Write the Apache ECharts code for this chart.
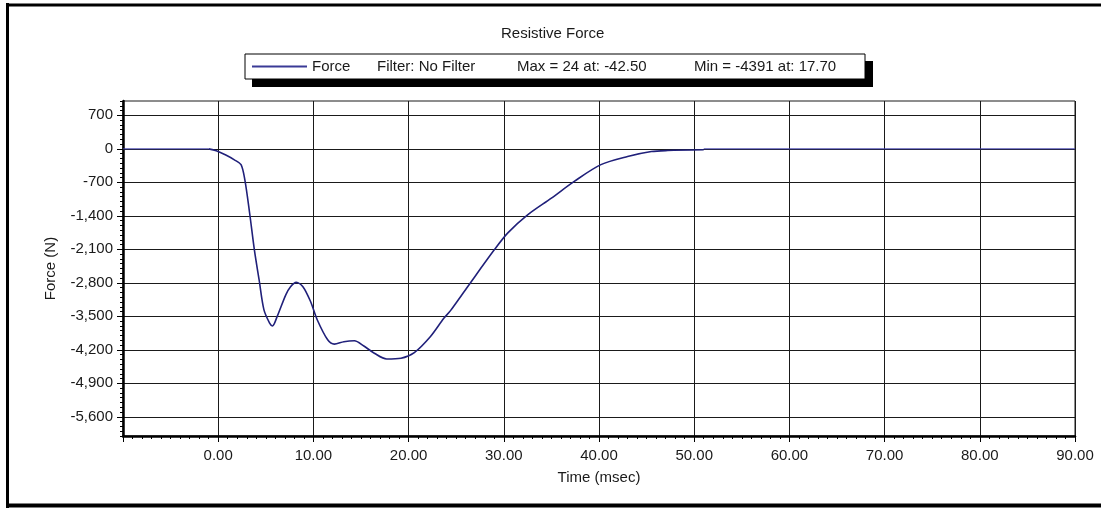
<!DOCTYPE html>
<html>
<head>
<meta charset="utf-8">
<script src="https://cdn.jsdelivr.net/npm/echarts@6/dist/echarts.min.js"></script>
<style>
  html, body { margin: 0; padding: 0; background: #fff; }
  #chart { width: 1101px; height: 508px; }
</style>
</head>
<body>
<div id="chart"></div>
<script>
// ---- data ----
const chartTitle = 'Resistive Force';
const seriesName = 'Force';
const legendFilter = 'Filter: No Filter';
const legendMax = 'Max = 24 at: -42.50';
const legendMin = 'Min = -4391 at: 17.70';
const xAxisTitle = 'Time (msec)';
const yAxisTitle = 'Force (N)';

const yTickValues = [700, 0, -700, -1400, -2100, -2800, -3500, -4200, -4900, -5600];

// main force curve (time in msec, force in N)
const timeMs = [-1, -0.2, 0.8, 1.7, 2.4, 2.8, 3.3, 3.8, 4.3, 4.8, 5.4, 5.7, 6.2, 7.1, 7.6, 8.2, 8.9, 9.7,
  10.4, 11.5, 12.2, 13.2, 14.3, 15.3, 16.4, 17.7, 19.2, 20.6, 22.3, 23.7, 24.4, 26.2, 29.0, 30.4,
  32.5, 35.0, 37.4, 40.2, 43.0, 45.5, 47.2, 51.0];
const forceN = [0, -40, -130, -230, -330, -650, -1340, -2110, -2740, -3360, -3640, -3700, -3500, -3050, -2880, -2790, -2880, -3190,
  -3570, -3990, -4080, -4030, -4010, -4120, -4270, -4391, -4375, -4257, -3920, -3540, -3380, -2880, -2110, -1760,
  -1380, -1030, -680, -330, -160, -56, -35, -20];

// flat baseline before and after the event
const baseBeforeT = [-10, -1];
const baseBeforeF = [0, 0];
const baseAfterT = [51, 90];
const baseAfterF = [0, 0];

const zip = (a, b) => a.map((v, i) => [v, b[i]]);

const FONT = '"Liberation Sans", Arial, sans-serif';
const TXT = '#1a1a1a';
const GRIDC = '#1a1a1a';

const chart = echarts.init(document.getElementById('chart'), null, { renderer: 'canvas' });

chart.setOption({
  backgroundColor: '#ffffff',
  animation: false,
  title: {
    text: chartTitle,
    left: 501,
    top: 26,
    padding: 0,
    textStyle: { fontFamily: FONT, fontSize: 15, fontWeight: 'normal', color: TXT }
  },
  legend: {
    data: [seriesName],
    left: 245,
    top: 54,
    padding: [5, 15, 5, 7],
    itemWidth: 55,
    itemHeight: 2,
    icon: 'rect',
    backgroundColor: '#ffffff',
    borderColor: '#000',
    borderWidth: 1,
    borderRadius: 0,
    selectedMode: false,
    formatter: function () {
      return '{a|' + seriesName + '}{b|' + legendFilter + '}{c|' + legendMax + '}{d|' + legendMin + '}';
    },
    textStyle: {
      fontFamily: FONT, fontSize: 15, color: TXT,
      rich: {
        a: { width: 65, fontFamily: FONT, fontSize: 15, color: TXT, lineHeight: 16 },
        b: { width: 140, fontFamily: FONT, fontSize: 15, color: TXT, lineHeight: 16 },
        c: { width: 177, fontFamily: FONT, fontSize: 15, color: TXT, lineHeight: 16 },
        d: { width: 156, fontFamily: FONT, fontSize: 15, color: TXT, lineHeight: 16 }
      }
    }
  },
  graphic: [
    { type: 'rect', z: 1, shape: { x: 252, y: 61, width: 621, height: 26 }, style: { fill: '#000' } },
    { type: 'line', z: 10, shape: { x1: 7.5, y1: 3, x2: 7.5, y2: 508 }, style: { stroke: '#000', lineWidth: 3 } },
    { type: 'line', z: 10, shape: { x1: 6, y1: 5, x2: 1101, y2: 5 }, style: { stroke: '#000', lineWidth: 3 } },
    { type: 'line', z: 10, shape: { x1: 6, y1: 505.5, x2: 1101, y2: 505.5 }, style: { stroke: '#000', lineWidth: 4 } }
  ],
  grid: {
    left: 123, right: 26, top: 101, bottom: 72,
    show: true, borderColor: GRIDC, borderWidth: 1, backgroundColor: '#fff'
  },
  xAxis: {
    type: 'value',
    min: -10, max: 90, interval: 10,
    name: xAxisTitle,
    nameLocation: 'middle',
    nameGap: 34,
    nameTextStyle: { fontFamily: FONT, fontSize: 15, color: TXT },
    axisLine: { show: true, onZero: false, lineStyle: { color: '#000', width: 2.5 } },
    axisTick: { show: true, length: 6, lineStyle: { color: '#000', width: 1 } },
    minorTick: { show: true, splitNumber: 10, length: 3, lineStyle: { color: '#000', width: 1 } },
    axisLabel: {
      margin: 12,
      fontFamily: FONT, fontSize: 15, color: TXT,
      formatter: v => (v < 0 ? '' : v.toFixed(2))
    },
    splitLine: { show: true, lineStyle: { color: GRIDC, width: 1 } },
    minorSplitLine: { show: false }
  },
  yAxis: [
    {
      type: 'value',
      min: -6000, max: 1000,
      position: 'left',
      name: yAxisTitle,
      nameLocation: 'middle',
      nameGap: 65,
      nameRotate: 90,
      nameTextStyle: { fontFamily: FONT, fontSize: 15, color: TXT },
      axisLine: { show: true, onZero: false, lineStyle: { color: '#000', width: 2.5 } },
      axisTick: { show: true, length: 6, customValues: yTickValues, lineStyle: { color: '#000', width: 1 } },
      axisLabel: {
        margin: 10,
        customValues: yTickValues,
        fontFamily: FONT, fontSize: 15, color: TXT,
        formatter: v => v.toLocaleString('en-US')
      },
      splitLine: { show: true, lineStyle: { color: GRIDC, width: 1 } }
    },
    {
      type: 'value',
      min: -6000, max: 1000, interval: 100,
      position: 'left',
      axisLine: { show: false, onZero: false },
      axisTick: { show: true, length: 3, lineStyle: { color: '#000', width: 1 } },
      axisLabel: { show: false },
      splitLine: { show: false }
    }
  ],
  series: [
    {
      name: '_base1', type: 'line', yAxisIndex: 0, symbol: 'none', silent: true,
      data: zip(baseBeforeT, baseBeforeF),
      lineStyle: { color: '#3c3ca8', width: 1 }
    },
    {
      name: '_base2', type: 'line', yAxisIndex: 0, symbol: 'none', silent: true,
      data: zip(baseAfterT, baseAfterF),
      lineStyle: { color: '#3c3ca8', width: 1 }
    },
    {
      name: seriesName, type: 'line', yAxisIndex: 0, symbol: 'none',
      smooth: 0.3,
      data: zip(timeMs, forceN),
      itemStyle: { color: '#3a3a96' },
      lineStyle: { color: '#20207a', width: 1.6 },
      z: 5
    }
  ]
});
</script>
</body>
</html>
